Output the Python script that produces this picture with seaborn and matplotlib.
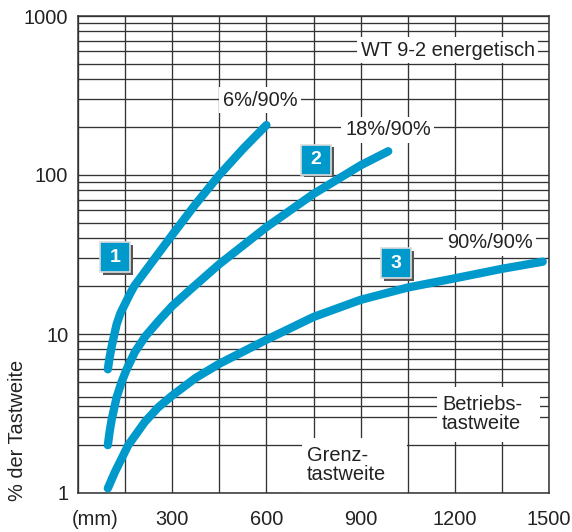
import numpy as np
import pandas as pd
import matplotlib
matplotlib.use("Agg")
import matplotlib.pyplot as plt
import matplotlib.ticker as mticker
from matplotlib.patches import Rectangle
from matplotlib.transforms import offset_copy
import seaborn as sns

# ---------------- data ----------------
curve1_x = [95, 100, 107, 116, 123, 135, 150, 165, 179, 245, 300, 373, 450, 527, 600]
curve1_y = [6.0, 7.0, 8.3, 10.0, 11.5, 13.5, 15.5, 17.8, 20.0, 30.0, 42.0, 65.0, 100.0, 147.0, 206.0]

curve2_x = [95, 101, 107, 123, 139, 155, 181, 215, 260, 300, 360, 450, 600, 750, 900, 988]
curve2_y = [2.0, 2.45, 2.88, 4.0, 5.0, 6.0, 7.7, 9.7, 12.3, 15.0, 19.2, 27.5, 47.0, 76.0, 115.0, 141.0]

curve3_x = [95, 118, 160, 213, 255, 300, 375, 450, 600, 750, 900, 1050, 1200, 1350, 1480]
curve3_y = [1.07, 1.36, 2.0, 2.8, 3.45, 4.1, 5.3, 6.5, 9.2, 12.8, 16.4, 19.6, 22.4, 25.7, 28.5]

curve_ids = ["1", "2", "3"]
curve_labels = ["6%/90%", "18%/90%", "90%/90%"]

x_tick_values = [54, 300, 600, 900, 1200, 1500]
x_tick_labels = ["(mm)", "300", "600", "900", "1200", "1500"]
y_tick_values = [1, 10, 100, 1000]
y_tick_labels = ["1", "10", "100", "1000"]
y_minor_values = [2, 3, 3.5, 4, 5, 6, 7, 8, 9,
                  20, 30, 40, 50, 60, 70, 80, 90,
                  200, 300, 400, 500, 600, 700, 800, 900]
x_grid_values = list(range(0, 1501, 150))

title_text = "WT 9-2 energetisch"
ylabel_text = "% der Tastweite"
betrieb_text = "Betriebs-\ntastweite"
grenz_text = "Grenz-\ntastweite"

# ---------------- styling ----------------
sns.set_theme(style="white")
plt.rcParams["font.family"] = ["Liberation Sans", "DejaVu Sans"]

BLUE = "#0099CC"
GRID = "#333333"
TXT = "#222222"
FS = 14.4

df = pd.concat([
    pd.DataFrame({"x": curve1_x, "y": curve1_y, "curve": curve_ids[0]}),
    pd.DataFrame({"x": curve2_x, "y": curve2_y, "curve": curve_ids[1]}),
    pd.DataFrame({"x": curve3_x, "y": curve3_y, "curve": curve_ids[2]}),
])

fig = plt.figure(figsize=(5.72, 5.32), dpi=100)
ax = fig.add_axes([78 / 572, 39 / 532, 471 / 572, 477 / 532])
ax.set_yscale("log")
ax.set_xlim(0, 1500)
ax.set_ylim(1, 1000)
ax.set_axisbelow(True)

sns.lineplot(data=df, x="x", y="y", hue="curve",
             palette=[BLUE, BLUE, BLUE], legend=False, ax=ax,
             linewidth=6.0, solid_capstyle="round", solid_joinstyle="round",
             zorder=4, estimator=None, sort=False)

# ticks & grid
ax.set_xticks(x_tick_values)
ax.set_xticklabels(x_tick_labels)
ax.xaxis.set_minor_locator(mticker.FixedLocator(x_grid_values))
ax.xaxis.remove_overlapping_locs = False
ax.set_yticks(y_tick_values)
ax.set_yticklabels(y_tick_labels)
ax.yaxis.set_minor_locator(mticker.FixedLocator(y_minor_values))
ax.yaxis.set_minor_formatter(mticker.NullFormatter())
ax.grid(False)
ax.xaxis.grid(True, which="minor", color=GRID, linewidth=0.95)
ax.yaxis.grid(True, which="both", color=GRID, linewidth=0.95)
ax.tick_params(axis="both", which="both", length=0, labelsize=FS, labelcolor=TXT)
ax.tick_params(axis="y", pad=7)
ax.tick_params(axis="x", pad=12)
ax.set_xlabel("")
ax.set_ylabel("")
for s in ax.spines.values():
    s.set_visible(True)
    s.set_color(GRID)
    s.set_linewidth(1.1)

bb = dict(boxstyle="square,pad=0.18", facecolor="white", edgecolor="none")
ax.text(580, 296, curve_labels[0], fontsize=FS, color=TXT, ha="center", va="center", bbox=bb, zorder=2)
ax.text(987, 192, curve_labels[1], fontsize=FS, color=TXT, ha="center", va="center", bbox=bb, zorder=2)
ax.text(1312, 37.4, curve_labels[2], fontsize=FS, color=TXT, ha="center", va="center", bbox=bb, zorder=2)
ax.text(1178, 611, title_text, fontsize=FS, color=TXT, ha="center", va="center", bbox=bb, zorder=2)

# white panels behind the range labels
ax.add_patch(Rectangle((0.762, 0.107), 0.219, 0.115, transform=ax.transAxes,
                       facecolor="white", edgecolor="none", zorder=1.5))
ax.add_patch(Rectangle((0.476, 0.0), 0.223, 0.115, transform=ax.transAxes,
                       facecolor="white", edgecolor="none", zorder=1.5))
ax.text(1159, 3.14, betrieb_text, fontsize=FS, color=TXT, ha="left", va="center",
        linespacing=1.0, zorder=2)
ax.text(729, 1.51, grenz_text, fontsize=FS, color=TXT, ha="left", va="center",
        linespacing=1.0, zorder=2)

# numbered boxes
box_pos = [(118, 30.3), (758, 125), (1013, 27.8)]
shadow_tr = offset_copy(ax.transData, fig=fig, x=2.5, y=-2.5, units="dots")
for (bx, by), lab in zip(box_pos, curve_ids):
    ax.plot([bx], [by], marker="s", markersize=21, color="#555555",
            markeredgewidth=0, transform=shadow_tr, zorder=5, linestyle="none")
    ax.plot([bx], [by], marker="s", markersize=21, markerfacecolor=BLUE,
            markeredgecolor="#dcdcdc", markeredgewidth=1.2, zorder=6, linestyle="none")
    ax.text(bx, by, lab, fontsize=14, fontweight="bold", color="white",
            ha="center", va="center", zorder=7)

fig.text(18 / 572, 1 - 430 / 532, ylabel_text, rotation=90, fontsize=FS,
         color=TXT, ha="center", va="center")

fig.savefig("out.png", dpi=100, facecolor="white")
